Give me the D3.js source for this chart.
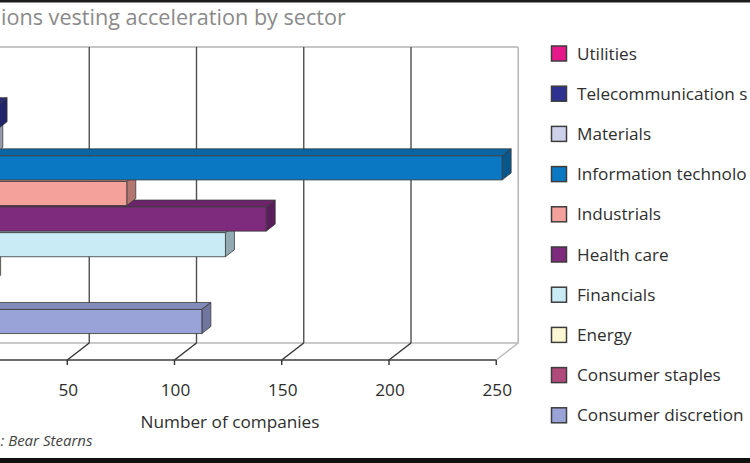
<!DOCTYPE html>
<html><head><meta charset="utf-8">
<script src="https://cdn.jsdelivr.net/npm/d3@7"></script>
<style>html,body{margin:0;padding:0;background:#fff;overflow:hidden}</style>
</head><body>
<svg id="c" width="750" height="463" xmlns="http://www.w3.org/2000/svg"></svg>
<script>
// ---- data ----
const categories = ["Utilities","Telecommunication services","Materials","Information technology","Industrials","Health care","Financials","Energy","Consumer staples","Consumer discretionary"];
const values = [7, 15, 13, 250, 75, 140, 121, 12, 9, 110];
const colors = ["#e6198a","#2e3192","#cdd2ea","#0a78c2","#f5a19b","#7e2a7d","#c8ebf6","#fbf7d2","#b0497c","#9aa3d8"];
const tickValues = [50, 100, 150, 200, 250];
const titleText = "Options vesting acceleration by sector";
const sourceText = "Source: Bear Stearns";
const axisTitleText = "Number of companies";

// ---- layout ----
const W = 750;
const svg = d3.select("#c");
const FONT = "'Open Sans', 'DejaVu Sans', sans-serif";
const frontY = 360, backY = 343, wallTop = 47;
const DX = 22;
const x = d3.scaleLinear().domain([0, 250]).range([-40, 496.25]);
const y = d3.scaleBand().domain(categories).range([78.3, 334.3]).paddingInner(0.06).paddingOuter(0.03);
const barOff = 5.9, bdx = 9, bdy = -7, leftX = -70;

function fitSize(textSel, target, start, len) {
  textSel.attr("font-size", 20);
  const n = textSel.node();
  const w = (start === undefined) ? n.getComputedTextLength() : n.getSubStringLength(start, len);
  return 20 * target / w;
}
// keep only the characters that lie inside the picture (the chart is cropped at its edges)
function clipToCanvas(sel) {
  const n = sel.node(), s = n.textContent;
  let first = 0, last = s.length;
  for (let i = 0; i < s.length; i++) {
    const p = n.getStartPositionOfChar(i).x;
    if (p < -0.5) first = i + 1;
  }
  for (let i = s.length - 1; i >= 0; i--) {
    const e = n.getEndPositionOfChar(i).x;
    if (e > W + 3) last = i;
  }
  const startX = n.getStartPositionOfChar(Math.min(first, s.length - 1)).x;
  sel.attr("text-anchor", "start").attr("x", startX).text(s.slice(first, last));
}

// frame lines
svg.append("rect").attr("x", 0).attr("y", 0).attr("width", W).attr("height", 2.5).attr("fill", "#1d1d1d");
svg.append("rect").attr("x", 0).attr("y", 458).attr("width", W).attr("height", 5).attr("fill", "#111");

// title
const title = svg.append("text").attr("y", 25).attr("fill", "#8a8a8a").attr("font-family", FONT).text(titleText);
{
  const fs = fitSize(title, 345, 3, titleText.length - 3);
  title.attr("font-size", fs);
  const pre = title.node().getSubStringLength(0, 3);
  title.attr("x", 1 - pre);
  clipToCanvas(title);
}

// back wall / floor
const g = svg.append("g");
const xRightBack = x(250) + DX;
g.append("line").attr("x1", leftX).attr("x2", xRightBack).attr("y1", wallTop).attr("y2", wallTop).attr("stroke", "#b3b3b3").attr("stroke-width", 1.6);
g.append("line").attr("x1", xRightBack).attr("x2", xRightBack).attr("y1", wallTop).attr("y2", backY).attr("stroke", "#b8b8b8").attr("stroke-width", 1.6);
g.append("line").attr("x1", leftX).attr("x2", xRightBack).attr("y1", backY).attr("y2", backY).attr("stroke", "#b8b8b8").attr("stroke-width", 1.6);
g.append("line").attr("x1", xRightBack).attr("x2", x(250)).attr("y1", backY).attr("y2", frontY).attr("stroke", "#b8b8b8").attr("stroke-width", 1.4);

g.selectAll(".grid").data(tickValues.filter(d => d < 250)).join("line")
  .attr("x1", d => x(d) + DX).attr("x2", d => x(d) + DX)
  .attr("y1", wallTop).attr("y2", backY).attr("stroke", "#505050").attr("stroke-width", 1.4);
g.selectAll(".fgrid").data(tickValues.filter(d => d < 250)).join("line")
  .attr("x1", d => x(d)).attr("x2", d => x(d) + DX)
  .attr("y1", frontY).attr("y2", backY).attr("stroke", "#333").attr("stroke-width", 1.4);
g.append("line").attr("x1", leftX).attr("x2", x(250)).attr("y1", frontY).attr("y2", frontY).attr("stroke", "#3c3c3c").attr("stroke-width", 1.6);
g.selectAll(".tk").data(tickValues).join("line")
  .attr("x1", d => x(d)).attr("x2", d => x(d)).attr("y1", frontY).attr("y2", frontY + 5)
  .attr("stroke", "#333").attr("stroke-width", 1.4);

// bars (bottom row first so upper fronts cover lower tops)
const order = d3.range(categories.length).reverse();
const bars = svg.append("g");
order.forEach(i => {
  const c = categories[i], v = values[i], col = d3.color(colors[i]);
  const y0 = y(c), y1 = y(c) + y.bandwidth();
  const x1 = x(v) + barOff;
  const bg = bars.append("g").attr("stroke", "#3a3a3a").attr("stroke-width", 0.8).attr("stroke-linejoin", "round");
  bg.append("polygon").attr("points", [[leftX, y0], [leftX + bdx, y0 + bdy], [x1 + bdx, y0 + bdy], [x1, y0]].join(" "))
    .attr("fill", col.darker(0.45));
  bg.append("polygon").attr("points", [[x1, y0], [x1 + bdx, y0 + bdy], [x1 + bdx, y1 + bdy], [x1, y1]].join(" "))
    .attr("fill", col.darker(0.9));
  bg.append("rect").attr("x", leftX).attr("y", y0).attr("width", x1 - leftX).attr("height", y1 - y0).attr("fill", col);
});

// axis title + tick labels
const axTitle = svg.append("text").attr("x", 230).attr("y", 428).attr("text-anchor", "middle").attr("fill", "#2e2e2e").attr("font-family", FONT).text(axisTitleText);
const axFs = fitSize(axTitle, 179);
axTitle.attr("font-size", axFs);
const tl = svg.append("g").attr("font-family", FONT).attr("fill", "#2e2e2e").attr("text-anchor", "middle").attr("font-size", axFs);
tl.selectAll("text").data(tickValues).join("text")
  .attr("x", d => x(d) + 1).attr("y", 396).text(d => d);

// source
const src = svg.append("text").attr("y", 446).attr("fill", "#444").attr("font-style", "italic").attr("font-family", FONT).text(sourceText);
{
  const fs = fitSize(src, 92, 6, sourceText.length - 6);
  src.attr("font-size", fs);
  const pre = src.node().getSubStringLength(0, 6);
  src.attr("x", 0.5 - pre);
  clipToCanvas(src);
}

// legend
const lg = svg.append("g").attr("font-family", FONT);
const legY0 = 53.5, legStep = 40.2;
const probe = lg.append("text").text("Consumer staples");
const legFs = fitSize(probe, 144);
probe.remove();
categories.forEach((c, i) => {
  const cy = legY0 + i * legStep;
  lg.append("rect").attr("x", 551.5).attr("y", cy - 7.5).attr("width", 15).attr("height", 15)
    .attr("fill", colors[i]).attr("stroke", "#3d3d3d").attr("stroke-width", 1.5);
  const t = lg.append("text").attr("x", 577).attr("y", cy + 6).attr("font-size", legFs).attr("fill", "#2e2e2e").text(c);
  clipToCanvas(t);
});
</script>
</body></html>
